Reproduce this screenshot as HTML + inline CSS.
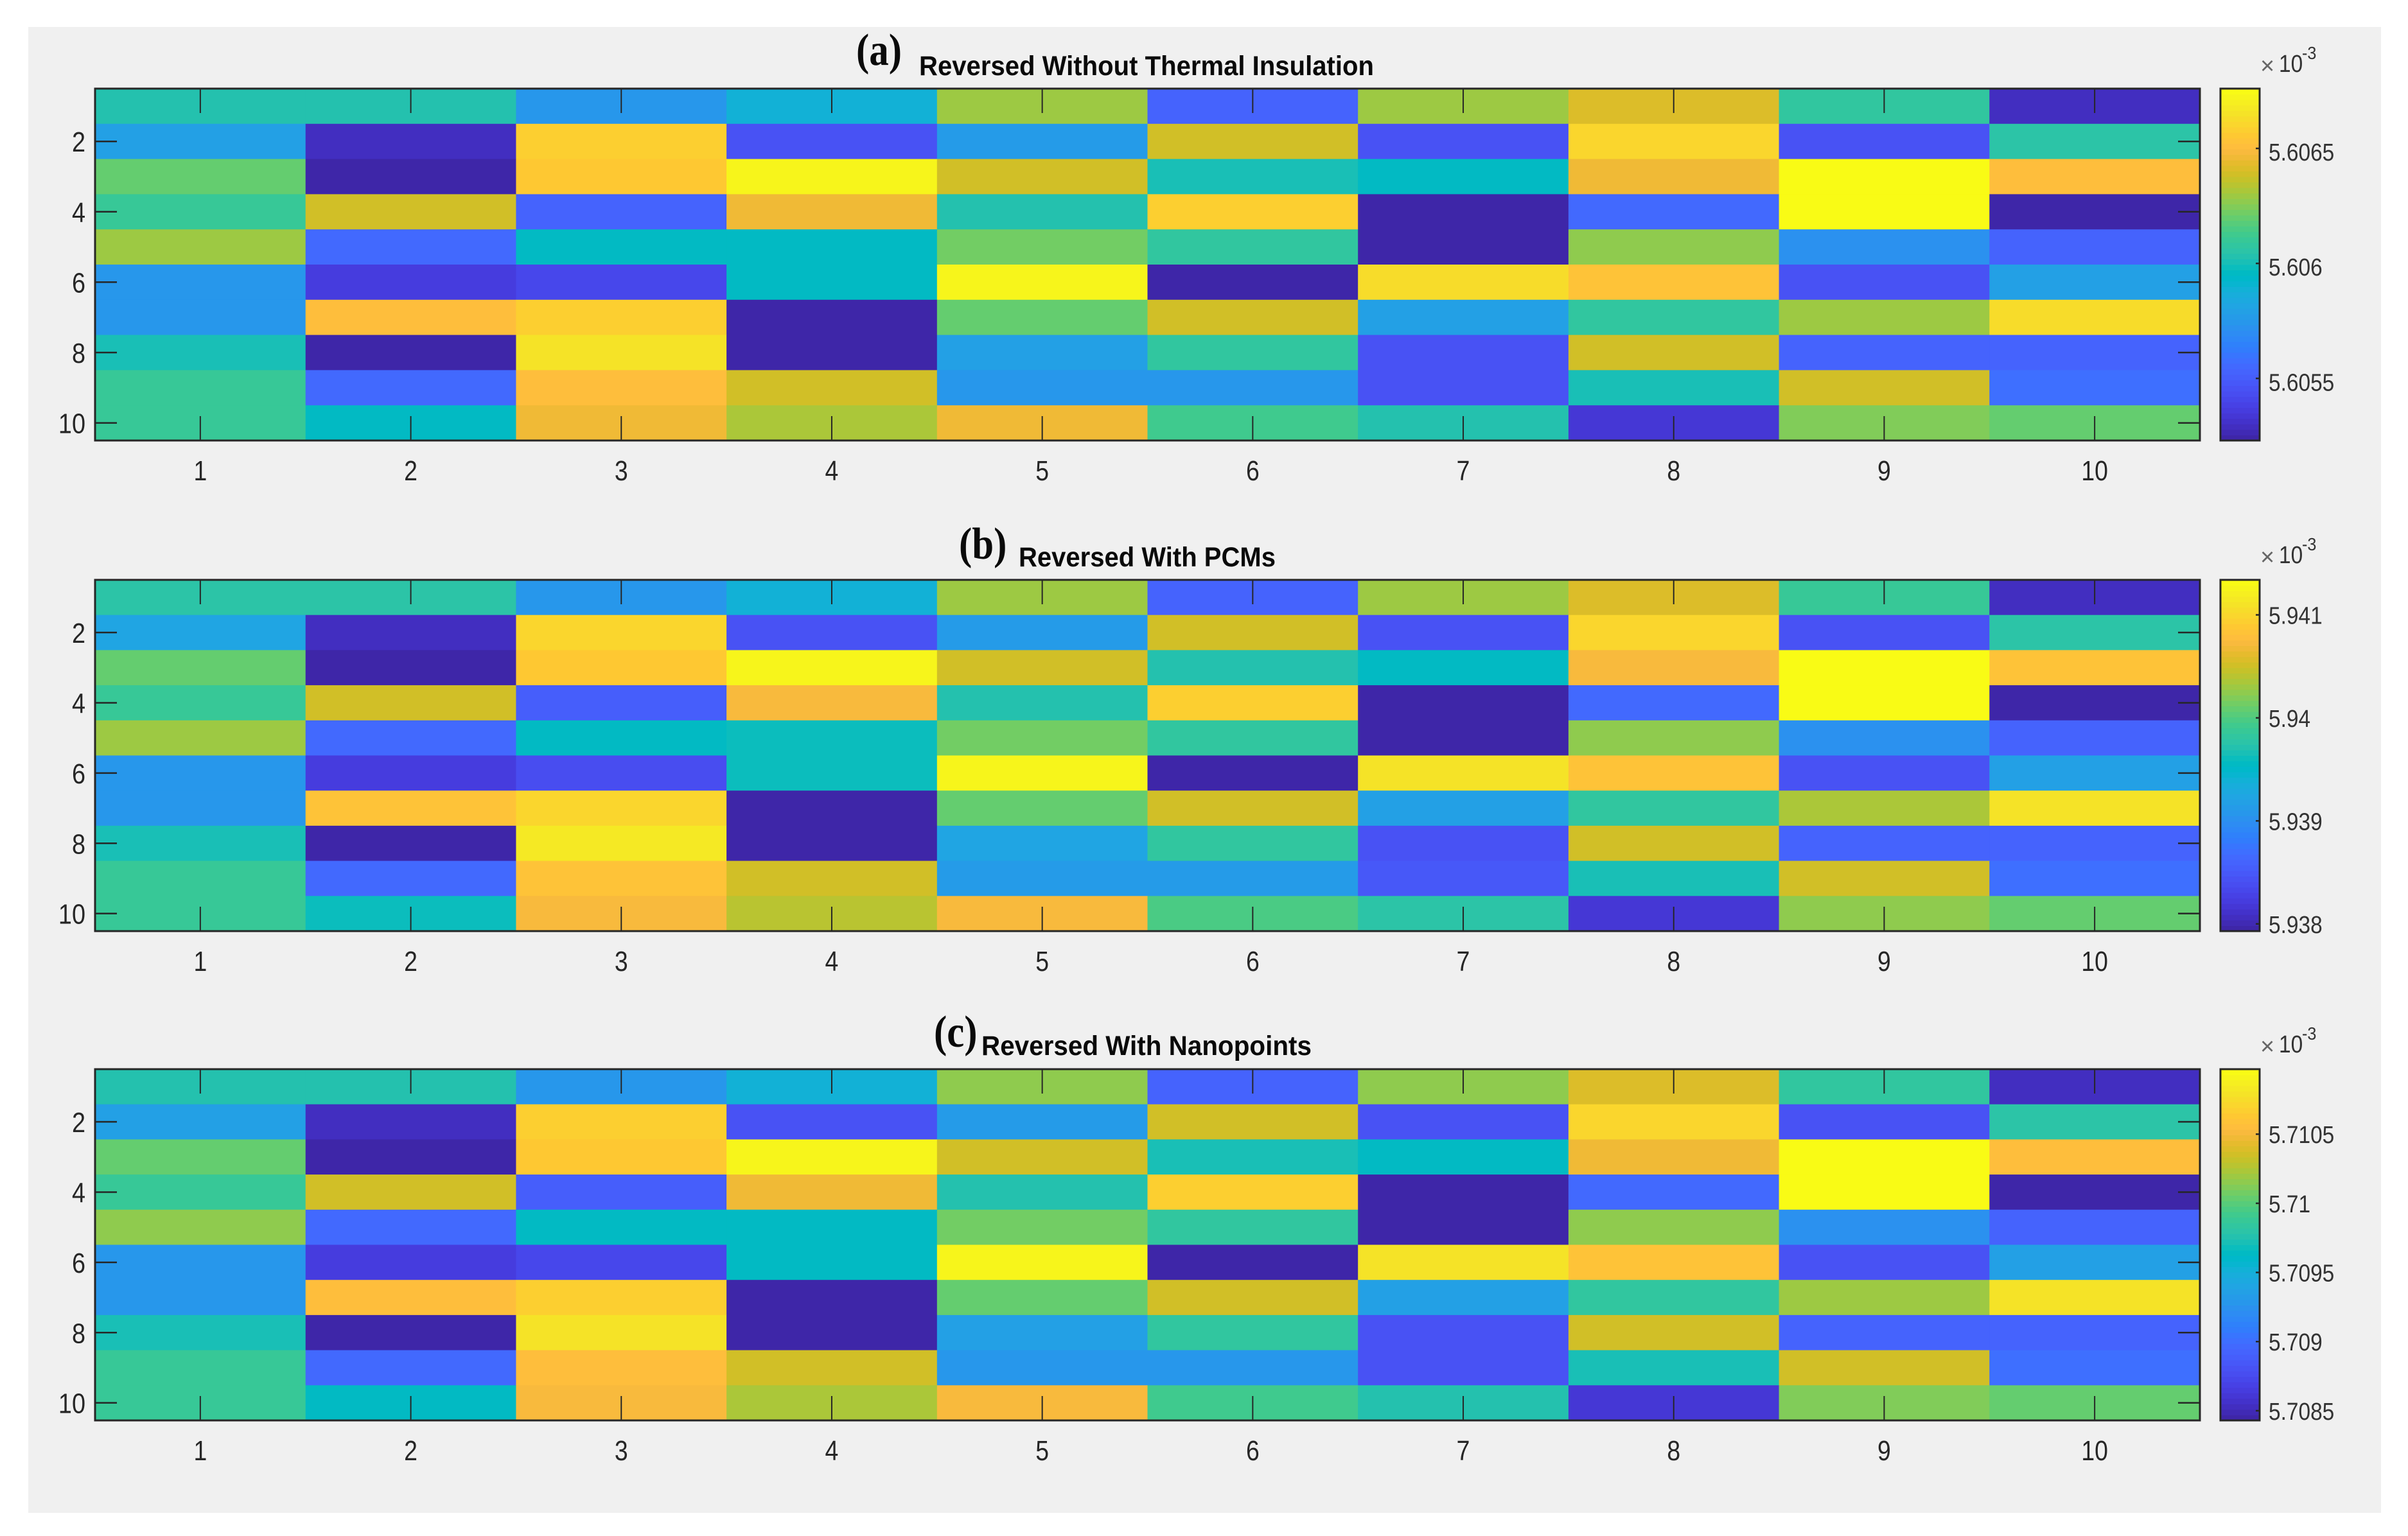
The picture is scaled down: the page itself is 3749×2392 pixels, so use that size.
<!DOCTYPE html>
<html lang="en">
<head>
<meta charset="utf-8">
<title>Reversed heatmaps</title>
<style>
html,body{margin:0;padding:0;background:#fff;}
svg{display:block;}
</style>
</head>
<body>
<svg id="chart" xmlns="http://www.w3.org/2000/svg" width="3749" height="2392" viewBox="0 0 3749 2392"></svg>
<script>
const columnLabels = [1,2,3,4,5,6,7,8,9,10];
const rowLabels = [1,2,3,4,5,6,7,8,9,10];
const yTickLabels = [2,4,6,8,10];

const panelATitle = "Reversed Without Thermal Insulation";
const panelBTitle = "Reversed With PCMs";
const panelCTitle = "Reversed With Nanopoints";

const panelAColorbarTicks = ["5.6055","5.606","5.6065"];
const panelBColorbarTicks = ["5.938","5.939","5.94","5.941"];
const panelCColorbarTicks = ["5.7085","5.709","5.7095","5.71","5.7105"];

const panelAValues = [
[5.60604,5.60604,5.60573,5.60589,5.60629,5.60552,5.60629,5.60641,5.60609,5.60528],
[5.60580,5.60528,5.60659,5.60544,5.60577,5.60639,5.60544,5.60661,5.60544,5.60606],
[5.60619,5.60523,5.60656,5.60673,5.60639,5.60601,5.60595,5.60647,5.60676,5.60652],
[5.60610,5.60639,5.60551,5.60647,5.60603,5.60658,5.60523,5.60555,5.60676,5.60523],
[5.60629,5.60555,5.60595,5.60596,5.60622,5.60607,5.60523,5.60627,5.60572,5.60552],
[5.60573,5.60535,5.60541,5.60596,5.60674,5.60523,5.60665,5.60653,5.60544,5.60578],
[5.60573,5.60652,5.60659,5.60523,5.60619,5.60639,5.60578,5.60607,5.60630,5.60665],
[5.60600,5.60523,5.60667,5.60523,5.60580,5.60607,5.60544,5.60639,5.60552,5.60552],
[5.60610,5.60555,5.60652,5.60639,5.60575,5.60575,5.60546,5.60600,5.60639,5.60557],
[5.60610,5.60596,5.60648,5.60633,5.60648,5.60613,5.60604,5.60532,5.60626,5.60619]
];
const panelBValues = [
[5.93976,5.93976,5.93907,5.93941,5.94031,5.93859,5.94031,5.94059,5.93986,5.93803],
[5.93921,5.93803,5.94100,5.93841,5.93914,5.94055,5.93841,5.94104,5.93841,5.93979],
[5.94010,5.93793,5.94093,5.94128,5.94055,5.93969,5.93955,5.94072,5.94134,5.94083],
[5.93990,5.94055,5.93855,5.94072,5.93972,5.94097,5.93793,5.93865,5.94134,5.93793],
[5.94031,5.93865,5.93955,5.93959,5.94017,5.93983,5.93793,5.94028,5.93903,5.93859],
[5.93907,5.93821,5.93834,5.93959,5.94131,5.93793,5.94114,5.94086,5.93841,5.93917],
[5.93907,5.94083,5.94100,5.93793,5.94010,5.94055,5.93917,5.93983,5.94035,5.94114],
[5.93966,5.93793,5.94117,5.93793,5.93921,5.93983,5.93841,5.94055,5.93859,5.93859],
[5.93990,5.93865,5.94083,5.94055,5.93910,5.93910,5.93845,5.93966,5.94055,5.93869],
[5.93990,5.93959,5.94076,5.94041,5.94076,5.93997,5.93976,5.93814,5.94024,5.94010]
];
const panelCValues = [
[5.70978,5.70978,5.70927,5.70952,5.71018,5.70891,5.71018,5.71039,5.70985,5.70851],
[5.70937,5.70851,5.71069,5.70879,5.70932,5.71036,5.70879,5.71072,5.70879,5.70980],
[5.71003,5.70843,5.71064,5.71092,5.71036,5.70973,5.70962,5.71049,5.71097,5.71056],
[5.70988,5.71036,5.70889,5.71049,5.70975,5.71067,5.70843,5.70896,5.71097,5.70843],
[5.71018,5.70896,5.70962,5.70965,5.71008,5.70983,5.70843,5.71016,5.70924,5.70891],
[5.70927,5.70863,5.70873,5.70965,5.71094,5.70843,5.71079,5.71059,5.70879,5.70934],
[5.70927,5.71056,5.71069,5.70843,5.71003,5.71036,5.70934,5.70983,5.71021,5.71079],
[5.70970,5.70843,5.71082,5.70843,5.70937,5.70983,5.70879,5.71036,5.70891,5.70891],
[5.70988,5.70896,5.71056,5.71036,5.70929,5.70929,5.70881,5.70970,5.71036,5.70899],
[5.70988,5.70965,5.71051,5.71026,5.71051,5.70993,5.70978,5.70858,5.71013,5.71003]
];

const parula = [[.2422,.1504,.6603],[.2504,.165,.7076],[.2578,.1818,.7511],[.2647,.1978,.7952],[.2706,.2147,.8364],[.2751,.2342,.871],[.2783,.2559,.8991],[.2803,.2782,.9221],[.2813,.3006,.9414],[.281,.3228,.9579],[.2795,.3447,.9717],[.276,.3667,.9829],[.2699,.3892,.9906],[.2602,.4123,.9952],[.244,.4358,.9988],[.2206,.4603,.9973],[.1963,.4847,.9892],[.1834,.5074,.9798],[.1786,.5289,.9682],[.1764,.5499,.952],[.1687,.5703,.9359],[.154,.5902,.9218],[.146,.6091,.9079],[.138,.6276,.8973],[.1248,.6459,.8883],[.1113,.6635,.8763],[.0952,.6798,.8598],[.0689,.6948,.8394],[.0297,.7082,.8163],[.0036,.7203,.7917],[.0067,.7312,.766],[.0433,.7411,.7394],[.0964,.75,.712],[.1408,.7584,.6842],[.1717,.767,.6554],[.1938,.7758,.6251],[.2161,.7843,.5923],[.247,.7918,.5567],[.2906,.7973,.5188],[.3406,.8008,.4789],[.3909,.8029,.4354],[.4456,.8024,.3909],[.5044,.7993,.348],[.5616,.7942,.3045],[.6174,.7876,.2612],[.672,.7793,.2227],[.7242,.7698,.191],[.7738,.7598,.1646],[.8203,.7498,.1535],[.8634,.7406,.1596],[.9035,.733,.1774],[.9393,.7288,.21],[.9728,.7298,.2394],[.9956,.7434,.2371],[.997,.7659,.2199],[.9952,.7861,.1967],[.9892,.8136,.1885],[.9786,.8386,.1766],[.9676,.8639,.1643],[.961,.889,.1537],[.9597,.9135,.1423],[.9628,.9373,.1265],[.9691,.9606,.1064],[.9769,.9839,.0805]];

const NS = "http://www.w3.org/2000/svg";
const svg = document.getElementById("chart");
const INK = "#262626";
const LEFT = 148, RIGHT = 3425, CB_LEFT = 3457, CB_RIGHT = 3518;

function node(tag, attrs, parent) {
  const el = document.createElementNS(NS, tag);
  for (const k in attrs) el.setAttribute(k, attrs[k]);
  parent.appendChild(el);
  return el;
}
function label(parent, str, x, y, size, sx, anchor, fill, family, weight) {
  const el = node("text", {
    transform: "translate(" + x + " " + y + ") scale(" + sx + " 1)",
    "font-size": size, "text-anchor": anchor, fill: fill,
    "font-family": family, "font-weight": weight
  }, parent);
  el.textContent = str;
  return el;
}
function rgb(c) {
  return "rgb(" + c.map(v => Math.round(v * 255)).join(",") + ")";
}
function colorFor(t) {
  const i = Math.max(0, Math.min(63, Math.round(t * 63)));
  return rgb(parula[i]);
}
const SANS = '"Liberation Sans",sans-serif';
const SERIF = '"Liberation Serif",serif';

const bg = node("rect", {x: 44, y: 42, width: 3663, height: 2314, fill: "#f0f0f0"}, svg);



function drawPanel(name, values, cbTicks, title, letter, top, bottom, layout) {
  const g = node("g", {}, svg);
  
  

  const flat = values.flat();
  const vMin = Math.min(...flat), vMax = Math.max(...flat);
  const norm = v => (v - vMin) / (vMax - vMin);
  const colW = (RIGHT - LEFT) / columnLabels.length;
  const rowH = (bottom - top) / rowLabels.length;
  const xLeft = i => LEFT + i * colW;
  const yTop = i => top + i * rowH;
  const xCenter = c => LEFT + (c - 0.5) * colW;
  const yCenter = r => top + (r - 0.5) * rowH;
  const yCb = v => bottom - norm(v) * (bottom - top);

  values.forEach((row, r) => {
    row.forEach((v, c) => {
      const cell = node("rect", {
        x: xLeft(c), y: yTop(r), width: colW + 0.5, height: rowH + 0.5,
        fill: colorFor(norm(v))
      }, g);
      
      
    });
  });

  columnLabels.forEach(c => {
    const x = xCenter(c);
    const t1 = node("line", {x1: x, x2: x, y1: top, y2: top + 38, stroke: INK, "stroke-width": 2}, g);
    
    
    const t2 = node("line", {x1: x, x2: x, y1: bottom, y2: bottom - 38, stroke: INK, "stroke-width": 2}, g);
    
    
    const tl = label(g, String(c), x, bottom + 62, 44, 0.85, "middle", INK, SANS, "normal");
    
    
  });

  yTickLabels.forEach(r => {
    const y = yCenter(r);
    const t1 = node("line", {x1: LEFT, x2: LEFT + 34, y1: y, y2: y, stroke: INK, "stroke-width": 2.5}, g);
    
    
    const t2 = node("line", {x1: RIGHT, x2: RIGHT - 34, y1: y, y2: y, stroke: INK, "stroke-width": 2.5}, g);
    
    
    const tl = label(g, String(r), 133, y + 16, 44, 0.86, "end", INK, SANS, "normal");
    
    
  });

  const frame = node("rect", {x: LEFT, y: top, width: RIGHT - LEFT, height: bottom - top, fill: "none", stroke: INK, "stroke-width": 3}, g);
  
  

  const letterText = label(g, letter, layout.letterX, layout.letterY, 70, 0.87, "start", "#0a0a0a", SERIF, "bold");
  
  

  const titleText = node("text", {
    x: layout.titleX, y: layout.titleY, "font-size": 43, "font-weight": "bold",
    fill: "#0a0a0a", "font-family": SANS, textLength: layout.titleW,
    lengthAdjust: "spacingAndGlyphs"
  }, g);
  titleText.textContent = title;
  
  

  const cb = node("g", {}, g);
  
  
  const stepH = (bottom - top) / parula.length;
  parula.forEach((c, i) => {
    const s = node("rect", {
      x: CB_LEFT, y: bottom - (i + 1) * stepH, width: CB_RIGHT - CB_LEFT, height: stepH + 0.5, fill: rgb(c)
    }, cb);
    
    
  });
  const cbFrame = node("rect", {x: CB_LEFT, y: top, width: CB_RIGHT - CB_LEFT, height: bottom - top, fill: "none", stroke: INK, "stroke-width": 3}, cb);
  
  

  cbTicks.forEach(s => {
    const y = yCb(parseFloat(s));
    const tick = node("line", {x1: CB_RIGHT, x2: CB_RIGHT - 6, y1: y, y2: y, stroke: INK, "stroke-width": 2.5}, cb);
    
    
    const tl = label(cb, s, 3532, y + layout.labelDy, 38, 0.88, "start", "#333333", SANS, "normal");
    
    
  });

  const times = label(cb, "\u00d7", 3519, top - 23, 38, 1, "start", "#666666", SANS, "normal");
  
  
  const ten = label(cb, "10", 3548, top - 26, 38, 0.88, "start", "#333333", SANS, "normal");
  
  
  const exp = label(cb, "-3", 3584, top - 46, 28, 0.9, "start", "#333333", SANS, "normal");
  
  
}

drawPanel("panel-a", panelAValues, panelAColorbarTicks, panelATitle, "(a)", 138, 686,
  {letterX: 1333, letterY: 101, titleX: 1431, titleY: 117, titleW: 708, labelDy: 19});
drawPanel("panel-b", panelBValues, panelBColorbarTicks, panelBTitle, "(b)", 903, 1450,
  {letterX: 1493, letterY: 870, titleX: 1586, titleY: 882, titleW: 400, labelDy: 14});
drawPanel("panel-c", panelCValues, panelCColorbarTicks, panelCTitle, "(c)", 1665, 2212,
  {letterX: 1454, letterY: 1630, titleX: 1528, titleY: 1643, titleW: 514, labelDy: 14});
</script>
</body>
</html>
